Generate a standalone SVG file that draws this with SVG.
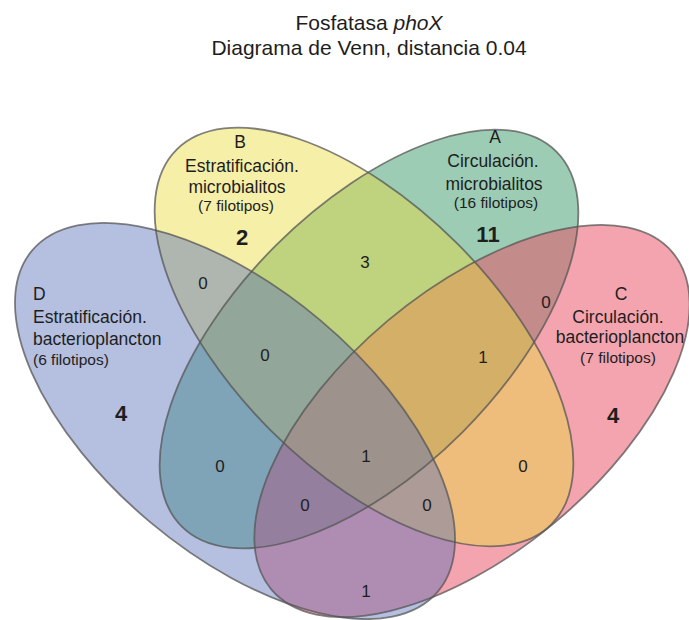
<svg xmlns="http://www.w3.org/2000/svg" width="689" height="620" viewBox="0 0 689 620">
  <style>
    text { font-family: "Liberation Sans", Arial, sans-serif; fill: #1e1e1e; }
    .title { font-size: 21px; text-anchor: middle; }
    .lbl { font-size: 17.5px; }
    .sub { font-size: 15.5px; }
    .num { font-size: 17px; text-anchor: middle; }
    .big { font-size: 22px; font-weight: bold; text-anchor: middle; }
    .mid { text-anchor: middle; }
    .edge { fill: none; stroke: #555555; stroke-opacity: 0.75; stroke-width: 1.8; }
  </style>

  <defs>
    <ellipse id="shapeA" cx="0" cy="0" rx="265" ry="132" transform="translate(369,339) rotate(-45)"/>
    <ellipse id="shapeB" cx="0" cy="0" rx="265" ry="132" transform="translate(364,337) rotate(45)"/>
    <ellipse id="shapeC" cx="0" cy="0" rx="262" ry="131" transform="translate(472,421) rotate(-40)"/>
    <ellipse id="shapeD" cx="0" cy="0" rx="265" ry="132" transform="translate(235,421) rotate(40)"/>
  </defs>

  <!-- title -->
  <text class="title" x="369" y="30">Fosfatasa <tspan font-style="italic">phoX</tspan></text>
  <text class="title" x="369" y="55">Diagrama de Venn, distancia 0.04</text>

  <!-- set fills, stacked A, C, B, D -->
  <g id="setA"><use href="#shapeA" fill="#3B9969" fill-opacity="0.5"/></g>
  <g id="setC"><use href="#shapeC" fill="#E9495D" fill-opacity="0.5"/></g>
  <g id="setB"><use href="#shapeB" fill="#E9DB3E" fill-opacity="0.45"/></g>
  <g id="setD"><use href="#shapeD" fill="#5B71BA" fill-opacity="0.45"/></g>

  <!-- outlines -->
  <g id="outlines" class="edge">
    <use href="#shapeA"/>
    <use href="#shapeC"/>
    <use href="#shapeB"/>
    <use href="#shapeD"/>
  </g>

  <!-- set labels -->
  <g id="labelB">
    <text class="lbl mid" x="240" y="148">B</text>
    <text class="lbl mid" x="242" y="172">Estratificación.</text>
    <text class="lbl mid" x="237" y="193">microbialitos</text>
    <text class="sub mid" x="236" y="211">(7 filotipos)</text>
    <text class="big" x="242" y="245">2</text>
  </g>
  <g id="labelA">
    <text class="lbl mid" x="495" y="143">A</text>
    <text class="lbl mid" x="493" y="167">Circulación.</text>
    <text class="lbl mid" x="494" y="190">microbialitos</text>
    <text class="sub mid" x="496" y="208">(16 filotipos)</text>
    <text class="big" x="488" y="242">11</text>
  </g>
  <g id="labelD">
    <text class="lbl" x="33" y="300">D</text>
    <text class="lbl" x="33" y="323">Estratificación.</text>
    <text class="lbl" x="33" y="345">bacterioplancton</text>
    <text class="sub" x="33" y="365">(6 filotipos)</text>
    <text class="big" x="121" y="421">4</text>
  </g>
  <g id="labelC">
    <text class="lbl mid" x="621" y="300">C</text>
    <text class="lbl mid" x="618" y="323">Circulación.</text>
    <text class="lbl mid" x="620" y="343">bacterioplancton</text>
    <text class="sub mid" x="618" y="363">(7 filotipos)</text>
    <text class="big" x="613" y="423">4</text>
  </g>

  <!-- region counts -->
  <g id="counts">
    <text class="num" x="203" y="289">0</text>
    <text class="num" x="365" y="268">3</text>
    <text class="num" x="265" y="361">0</text>
    <text class="num" x="483" y="363">1</text>
    <text class="num" x="546" y="308">0</text>
    <text class="num" x="366" y="462">1</text>
    <text class="num" x="220" y="472">0</text>
    <text class="num" x="523" y="472">0</text>
    <text class="num" x="305" y="511">0</text>
    <text class="num" x="427" y="511">0</text>
    <text class="num" x="366" y="597">1</text>
  </g>
</svg>
